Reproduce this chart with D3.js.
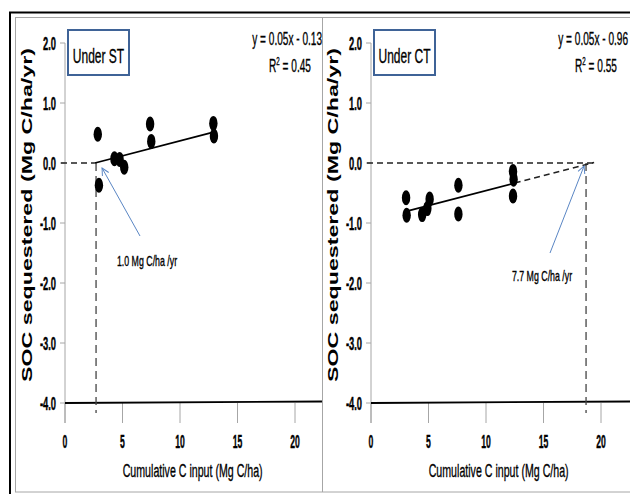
<!DOCTYPE html>
<html>
<head>
<meta charset="utf-8">
<script src="https://cdn.jsdelivr.net/npm/d3@7/dist/d3.min.js"></script>
<style>
  html, body { margin: 0; padding: 0; background: #fff; }
  svg { display: block; }
  text { font-family: "Liberation Sans", Arial, sans-serif; }
</style>
</head>
<body>
<svg id="chart" width="630" height="494"></svg>
<script>
// Panels: soil management systems
const panels = ["Under ST", "Under CT"];

// Cumulative C input (Mg C/ha) and SOC sequestered (Mg C/ha/yr) per panel
const stInput = [2.85, 2.95, 4.3, 4.75, 5.15, 7.4, 7.5, 12.9, 12.95];
const stSoc   = [0.48, -0.37, 0.07, 0.06, -0.07, 0.65, 0.36, 0.66, 0.45];
const ctInput = [3.05, 3.1, 4.45, 4.9, 5.1, 7.6, 7.6, 12.35, 12.4, 12.35];
const ctSoc   = [-0.58, -0.87, -0.86, -0.76, -0.6, -0.37, -0.85, -0.14, -0.27, -0.55];

// Linear fits as printed on each panel
const fitSlope     = [0.05, 0.05];
const fitIntercept = [-0.13, -0.96];
const fitR2        = ["0.45", "0.55"];
// Extent of the solid fitted line and of its dashed extension
const fitFrom   = [2.6, 3.3];
const fitTo     = [13.0, 12.5];
const extendTo  = [null, 19.4];
// Break-even C input (dashed drop line) and its annotation
const breakEven = [2.7, 18.7];
const annotText = ["1.0 Mg C/ha /yr", "7.7 Mg C/ha /yr"];

// Axis ticks
const yTicks = [2, 1, 0, -1, -2, -3, -4];
const xTicks = [0, 5, 10, 15, 20];
const yTitle = "SOC sequestered (Mg C/ha/yr)";
const xTitle = "Cumulative C input (Mg C/ha)";

const svg = d3.select("#chart");

// narrow, tall lettering: text drawn at (x, y) and squeezed horizontally
function label(g, x, y, txt, o = {}) {
  const t = g.append("text")
    .attr("transform", `translate(${x},${y}) scale(${o.sx || 0.6},1)`)
    .attr("text-anchor", o.anchor || "middle")
    .attr("font-size", o.size || 16)
    .attr("font-weight", o.weight || "normal")
    .attr("fill", "#000")
    .attr("stroke", "#000")
    .attr("stroke-width", o.sw || 0.35);
  if (txt !== null) t.text(txt);
  return t;
}

// Outer frame
svg.append("rect").attr("x", 15.5).attr("y", 17.5).attr("width", 640).attr("height", 474.5)
  .attr("fill", "none").attr("stroke", "#a6a6a6").attr("stroke-width", 1);
svg.append("line").attr("x1", 9).attr("x2", 630).attr("y1", 12.5).attr("y2", 12.5)
  .attr("stroke", "#000").attr("stroke-width", 2);
svg.append("line").attr("x1", 10).attr("x2", 10).attr("y1", 12).attr("y2", 494)
  .attr("stroke", "#000").attr("stroke-width", 2);
svg.append("line").attr("x1", 322.5).attr("x2", 322.5).attr("y1", 17).attr("y2", 492)
  .attr("stroke", "#a6a6a6").attr("stroke-width", 1);

const panelData = [
  { input: stInput, soc: stSoc, x0: 65, right: 322 },
  { input: ctInput, soc: ctSoc, x0: 371, right: 630 }
];

const blue = "#5a86c4";
const y = d3.scaleLinear().domain([-4, 2]).range([403, 43]);

// arrow marker
const defs = svg.append("defs");
defs.append("marker").attr("id", "arr").attr("viewBox", "0 0 10 10")
  .attr("refX", 9).attr("refY", 5).attr("markerWidth", 9).attr("markerHeight", 9)
  .attr("markerUnits", "userSpaceOnUse").attr("orient", "auto")
  .append("path").attr("d", "M1,1 L9,5 L1,9").attr("fill", "none")
  .attr("stroke", blue).attr("stroke-width", 1.1);

panelData.forEach((p, i) => {
  const g = svg.append("g");
  const x = d3.scaleLinear().domain([0, 20]).range([p.x0, p.x0 + 230]);

  // y axis
  g.append("line").attr("x1", p.x0).attr("x2", p.x0).attr("y1", y(2)).attr("y2", 423)
    .attr("stroke", "#a6a6a6").attr("stroke-width", 1);
  yTicks.forEach(t => {
    g.append("line").attr("x1", p.x0 - 5).attr("x2", p.x0).attr("y1", y(t)).attr("y2", y(t))
      .attr("stroke", "#a6a6a6");
    label(g, p.x0 - 9, y(t) + 6.5, d3.format(".1f")(t).replace("\u2212", "-"),
      { anchor: "end", size: 18, weight: "bold", sx: 0.52, sw: 0.4 });
  });

  // x axis ticks hanging below the -4 line
  xTicks.forEach(t => {
    g.append("line").attr("x1", x(t)).attr("x2", x(t)).attr("y1", y(-4)).attr("y2", 423)
      .attr("stroke", "#a6a6a6");
    label(g, x(t), 448, t, { size: 18, weight: "bold", sx: 0.48, sw: 0.4 });
  });
  g.append("line").attr("x1", p.x0).attr("x2", p.right).attr("y1", y(-4)).attr("y2", y(-4) - 1.5)
    .attr("stroke", "#000").attr("stroke-width", 1.8);

  // titles
  label(g, x(11.1), 477, xTitle, { size: 19, sx: 0.56 });
  g.append("text")
    .attr("transform", `translate(${p.x0 - 33},${215}) rotate(-90)`)
    .attr("text-anchor", "middle").attr("font-family", "DejaVu Sans, Verdana, sans-serif")
    .attr("font-weight", "bold").attr("font-size", 14)
    .attr("textLength", 334).attr("lengthAdjust", "spacingAndGlyphs")
    .text(yTitle);

  // panel label box
  g.append("rect").attr("x", p.x0 + 3).attr("y", 30).attr("width", 61).attr("height", 45)
    .attr("fill", "#fff").attr("stroke", "#3f6397").attr("stroke-width", 2);
  label(g, p.x0 + 33.5, 63, panels[i], { size: 20, sx: 0.6 });

  // equation and R²
  const eq = `y = ${fitSlope[i].toFixed(2)}x - ${Math.abs(fitIntercept[i]).toFixed(2)}`;
  label(g, i === 0 ? 322 : 628, 45, eq, { anchor: "end", size: 18, sx: 0.56 });
  const r2 = label(g, i === 0 ? 290 : 596, 72, null, { size: 18, sx: 0.56 });
  r2.append("tspan").text("R");
  r2.append("tspan").attr("dy", -7).attr("font-size", 11).text("2");
  r2.append("tspan").attr("dy", 7).text(` = ${fitR2[i]}`);

  const f = v => fitSlope[i] * v + fitIntercept[i];

  // dashed zero line and break-even drop line
  const zeroEnd = extendTo[i] !== null ? extendTo[i] : fitFrom[i];
  g.append("line").attr("x1", p.x0 - 4).attr("x2", x(zeroEnd)).attr("y1", y(0)).attr("y2", y(0))
    .attr("stroke", "#222").attr("stroke-width", 1.5).attr("stroke-dasharray", "6,4");
  g.append("line").attr("x1", x(breakEven[i])).attr("x2", x(breakEven[i]))
    .attr("y1", y(0)).attr("y2", 413)
    .attr("stroke", "#444").attr("stroke-width", 1.3).attr("stroke-dasharray", "8,5");

  // dashed extension of fit
  if (extendTo[i] !== null) {
    g.append("line").attr("x1", x(fitTo[i])).attr("x2", x(extendTo[i]))
      .attr("y1", y(f(fitTo[i]))).attr("y2", y(f(extendTo[i])))
      .attr("stroke", "#222").attr("stroke-width", 1.6).attr("stroke-dasharray", "6,4");
  }

  // points
  g.selectAll("ellipse").data(p.input.map((v, k) => [v, p.soc[k]])).join("ellipse")
    .attr("cx", d => x(d[0])).attr("cy", d => y(d[1]))
    .attr("rx", 4.2).attr("ry", 7.5).attr("fill", "#000");

  // solid fitted line
  g.append("line").attr("x1", x(fitFrom[i])).attr("x2", x(fitTo[i]))
    .attr("y1", y(f(fitFrom[i]))).attr("y2", y(f(fitTo[i])))
    .attr("stroke", "#000").attr("stroke-width", 1.8);

  // annotation arrow and text
  const tip = [x(breakEven[i]) + (i === 0 ? 6 : -2), y(0) + (i === 0 ? 5 : 3)];
  const tail = i === 0 ? [140, 236] : [550, 253];
  g.append("line").attr("x1", tail[0]).attr("y1", tail[1]).attr("x2", tip[0]).attr("y2", tip[1])
    .attr("stroke", blue).attr("stroke-width", 1).attr("marker-end", "url(#arr)");
  label(g, i === 0 ? 147 : 542, i === 0 ? 266 : 281, annotText[i], { size: 14, sx: 0.63 });
});
</script>
</body>
</html>
